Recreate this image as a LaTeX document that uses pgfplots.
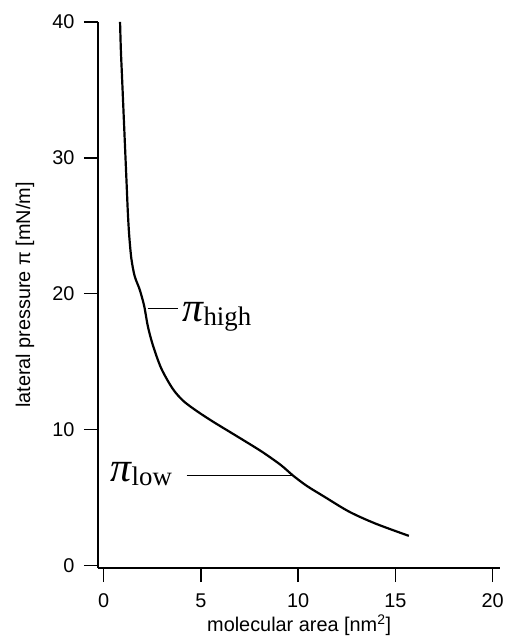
\documentclass[border=0pt]{standalone}
\usepackage{pgfplots}
\pgfplotsset{compat=1.18}
\usepackage{fontspec}
\setmainfont{Liberation Sans}
\newfontfamily\timesf{Liberation Serif}
\begin{document}
\begin{tikzpicture}
\begin{axis}[
  scale only axis,
  width=403.6bp, height=547.7bp,
  xmin=-0.3, xmax=20.4, ymin=-0.2, ymax=40,
  axis x line=bottom, axis y line=left,
  axis line style={-, line width=1.6bp},
  xtick={0,5,10,15,20}, ytick={0,10,20,30,40},
  minor tick num=0,
  tick align=outside,
  major tick length=14bp,
  tick style={line width=1.4bp, black},
  /pgf/number format/assume math mode=true,
  ticklabel style={font=\fontsize{20}{20}\selectfont},
  xticklabel style={yshift=-8bp},
  yticklabel style={xshift=-6bp},
  label style={font=\fontsize{20}{20}\selectfont},
  xlabel={molecular area [nm\textsuperscript{2}]},
  ylabel={lateral pressure π [mN/m]},
  xlabel style={at={(axis description cs:0.5,0)}, anchor=center, yshift=-57bp},
  ylabel style={at={(axis description cs:0,0.5)}, anchor=center, yshift=73bp},
  clip=false,
]
\coordinate (BL) at (rel axis cs:0,0);
\coordinate (TR) at (rel axis cs:1,1);
\addplot[black, line width=2.2bp, smooth, tension=0.5] coordinates {
(0.84,40)
(0.88,38)
(0.94,36)
(1.00,34)
(1.06,32)
(1.12,30)
(1.18,28)
(1.24,26)
(1.31,24.3)
(1.42,22.6)
(1.59,21.3)
(1.85,20.3)
(2.08,19.1)
(2.27,17.6)
(2.53,16.2)
(2.96,14.5)
(3.55,13.0)
(4.10,12.1)
(4.80,11.35)
(5.60,10.6)
(6.46,9.85)
(7.32,9.1)
(8.17,8.34)
(9.10,7.40)
(9.75,6.60)
(10.45,5.85)
(11.30,5.10)
(12.62,3.96)
(13.98,3.08)
(15.69,2.18)
};
\draw[black, line width=1bp] (axis cs:2.26,18.94) -- (axis cs:3.80,18.94);
\draw[black, line width=1bp] (axis cs:4.26,6.6) -- (axis cs:9.69,6.6);
\node[anchor=base west, inner sep=0pt] at (axis cs:4.05,17.98)
  {\timesf\fontsize{42}{42}\selectfont\itshape π\raisebox{-4bp}{\upshape\fontsize{27}{27}\selectfont high}};
\node[anchor=base west, inner sep=0pt] at (axis cs:0.35,6.17)
  {\timesf\fontsize{42}{42}\selectfont\itshape π\raisebox{-4bp}{\upshape\fontsize{27}{27}\selectfont low}};
\end{axis}
\path ([shift={(-98.15bp,-69.3bp)}]BL) rectangle ([shift={(5.2bp,22bp)}]TR);
\end{tikzpicture}
\end{document}
